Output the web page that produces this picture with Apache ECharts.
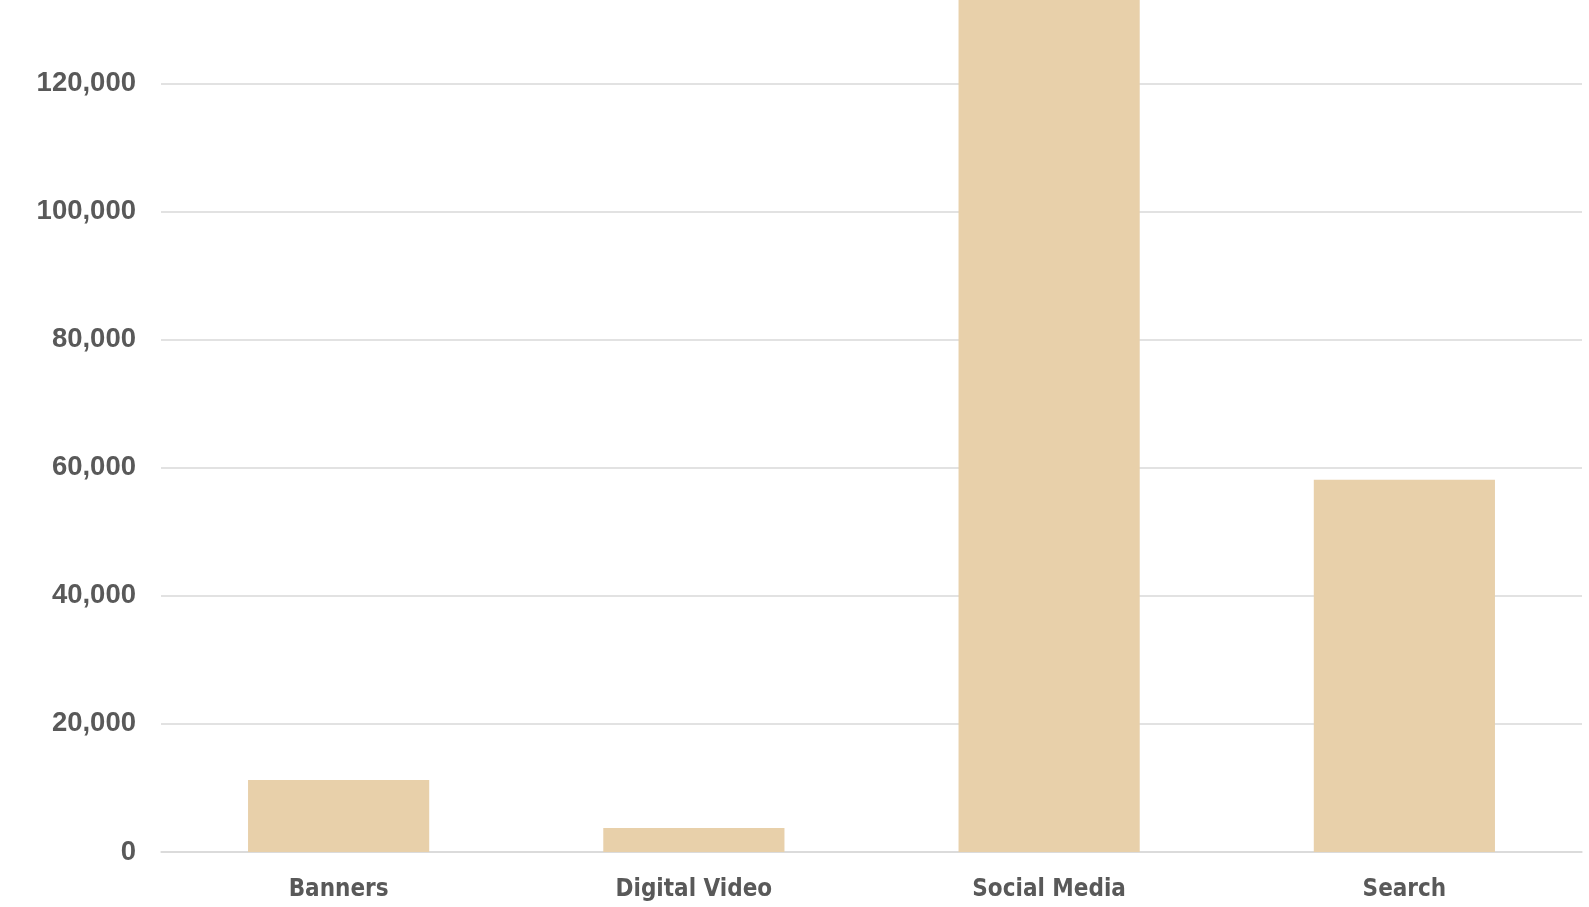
<!DOCTYPE html>
<html>
<head>
<meta charset="utf-8">
<script src="https://cdn.jsdelivr.net/npm/echarts@6/dist/echarts.min.js"></script>
<style>html,body{margin:0;padding:0;background:#fff;}#c{width:1589px;height:907px;}</style>
</head>
<body>
<div id="c"></div>
<script>
const categories = ['Banners', 'Digital Video', 'Social Media', 'Search'];
const values = [11250, 3750, 150000, 58100];
const yTicks = [0, 20000, 40000, 60000, 80000, 100000, 120000];

const chart = echarts.init(document.getElementById('c'), null, {renderer: 'canvas'});
chart.setOption({
  animation: false,
  backgroundColor: '#ffffff',
  grid: {left: 161, right: 7, top: 0, bottom: 55, containLabel: false},
  xAxis: {
    type: 'category',
    data: categories,
    axisLine: {show: true, lineStyle: {color: '#d9d9d9', width: 1.5}},
    axisTick: {show: false},
    axisLabel: {
      color: '#595959',
      fontFamily: '"DejaVu Sans Condensed", "Liberation Sans", Arial, sans-serif',
      fontWeight: 'bold',
      fontSize: 24,
      margin: 26
    }
  },
  yAxis: {
    type: 'value',
    min: 0,
    max: 133000,
    interval: 20000,
    axisLine: {show: false},
    axisTick: {show: false},
    splitLine: {show: true, showMaxLine: false, lineStyle: {color: '#d9d9d9', width: 1.5}},
    axisLabel: {
      color: '#595959',
      fontFamily: '"Liberation Sans", Arial, sans-serif',
      fontWeight: 'bold',
      fontSize: 27.5,
      margin: 25,
      showMaxLabel: false,
      formatter: function (v) {
        return yTicks.indexOf(v) >= 0 ? v.toLocaleString('en-US') : '';
      }
    }
  },
  series: [{
    type: 'bar',
    data: values,
    barWidth: '51%',
    clip: true,
    itemStyle: {color: '#e8d0aa'}
  }]
});
</script>
</body>
</html>
